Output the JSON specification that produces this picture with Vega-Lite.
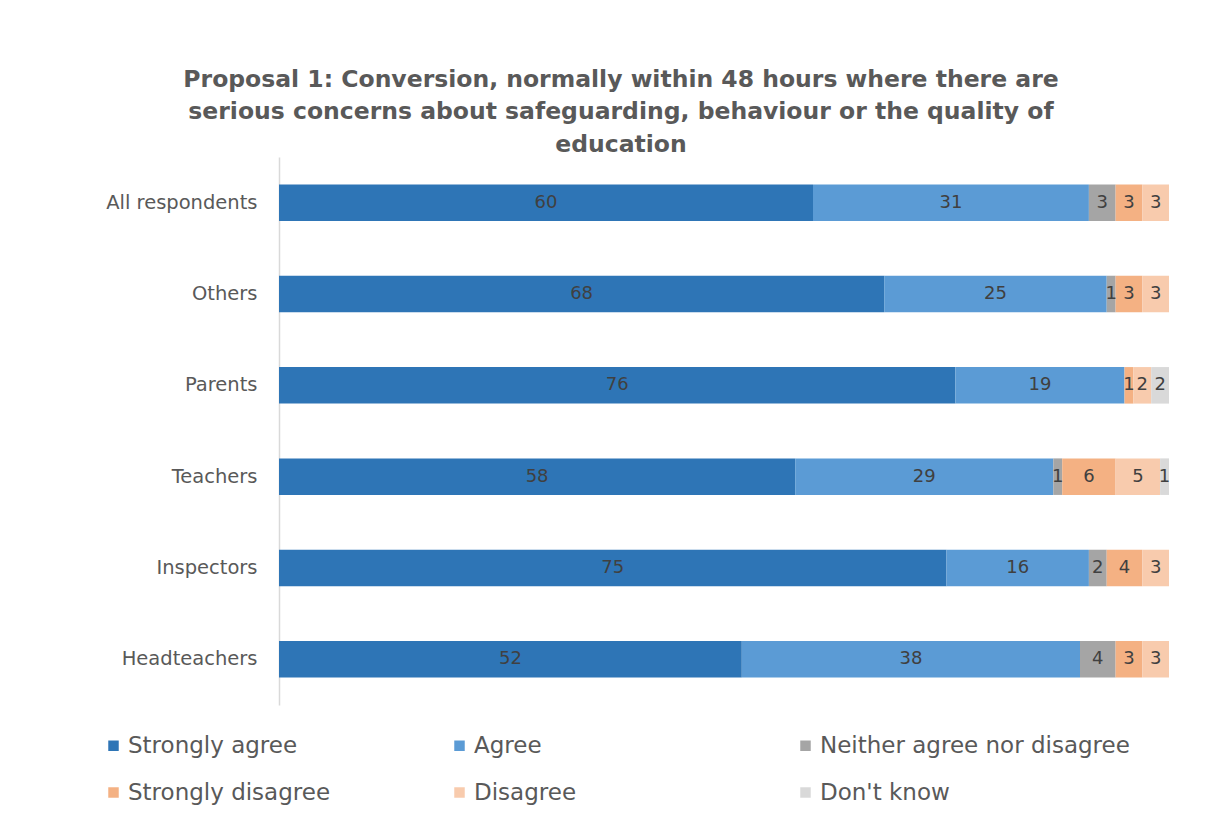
{
  "$schema": "https://vega.github.io/schema/vega-lite/v6.json",
  "width": 890,
  "height": 548,
  "autosize": {"type": "none"},
  "padding": {"left": 279, "top": 157, "right": 38, "bottom": 116},
  "background": "white",
  "config": {"view": {"stroke": null}},
  "title": {
    "text": ["Proposal 1: Conversion, normally within 48 hours where there are", "serious concerns about safeguarding, behaviour or the quality of", "education"],
    "font": "DejaVu Sans",
    "fontSize": 23.5,
    "fontWeight": "bold",
    "color": "#595959",
    "anchor": "middle",
    "frame": "group",
    "dx": -103,
    "offset": 1,
    "lineHeight": 32.5
  },
  "data": {
    "values": [
      {"group": "All respondents", "response": "Strongly agree", "k": 1, "value": 60},
      {"group": "All respondents", "response": "Agree", "k": 2, "value": 31},
      {"group": "All respondents", "response": "Neither agree nor disagree", "k": 3, "value": 3},
      {"group": "All respondents", "response": "Strongly disagree", "k": 4, "value": 3},
      {"group": "All respondents", "response": "Disagree", "k": 5, "value": 3},
      {"group": "Others", "response": "Strongly agree", "k": 1, "value": 68},
      {"group": "Others", "response": "Agree", "k": 2, "value": 25},
      {"group": "Others", "response": "Neither agree nor disagree", "k": 3, "value": 1},
      {"group": "Others", "response": "Strongly disagree", "k": 4, "value": 3},
      {"group": "Others", "response": "Disagree", "k": 5, "value": 3},
      {"group": "Parents", "response": "Strongly agree", "k": 1, "value": 76},
      {"group": "Parents", "response": "Agree", "k": 2, "value": 19},
      {"group": "Parents", "response": "Strongly disagree", "k": 4, "value": 1},
      {"group": "Parents", "response": "Disagree", "k": 5, "value": 2},
      {"group": "Parents", "response": "Don't know", "k": 6, "value": 2},
      {"group": "Teachers", "response": "Strongly agree", "k": 1, "value": 58},
      {"group": "Teachers", "response": "Agree", "k": 2, "value": 29},
      {"group": "Teachers", "response": "Neither agree nor disagree", "k": 3, "value": 1},
      {"group": "Teachers", "response": "Strongly disagree", "k": 4, "value": 6},
      {"group": "Teachers", "response": "Disagree", "k": 5, "value": 5},
      {"group": "Teachers", "response": "Don't know", "k": 6, "value": 1},
      {"group": "Inspectors", "response": "Strongly agree", "k": 1, "value": 75},
      {"group": "Inspectors", "response": "Agree", "k": 2, "value": 16},
      {"group": "Inspectors", "response": "Neither agree nor disagree", "k": 3, "value": 2},
      {"group": "Inspectors", "response": "Strongly disagree", "k": 4, "value": 4},
      {"group": "Inspectors", "response": "Disagree", "k": 5, "value": 3},
      {"group": "Headteachers", "response": "Strongly agree", "k": 1, "value": 52},
      {"group": "Headteachers", "response": "Agree", "k": 2, "value": 38},
      {"group": "Headteachers", "response": "Neither agree nor disagree", "k": 3, "value": 4},
      {"group": "Headteachers", "response": "Strongly disagree", "k": 4, "value": 3},
      {"group": "Headteachers", "response": "Disagree", "k": 5, "value": 3}
    ]
  },
  "encoding": {
    "y": {
      "field": "group",
      "type": "nominal",
      "sort": ["All respondents", "Others", "Parents", "Teachers", "Inspectors", "Headteachers"],
      "scale": {"paddingInner": 0.6, "paddingOuter": 0.3},
      "axis": {
        "title": null,
        "ticks": false,
        "domainColor": "#d9d9d9",
        "domainWidth": 1.5,
        "labelFont": "DejaVu Sans",
        "labelFontSize": 19.5,
        "labelColor": "#595959",
        "labelPadding": 22
      }
    },
    "x": {
      "field": "value",
      "type": "quantitative",
      "stack": "zero",
      "scale": {"domain": [0, 100], "nice": false},
      "axis": null
    },
    "order": {"field": "k", "type": "quantitative"}
  },
  "layer": [
    {
      "mark": {"type": "bar"},
      "encoding": {
        "color": {
          "field": "response",
          "type": "nominal",
          "scale": {
            "domain": ["Strongly agree", "Agree", "Neither agree nor disagree", "Strongly disagree", "Disagree", "Don't know"],
            "range": ["#2E75B6", "#5B9BD5", "#A5A5A5", "#F4B183", "#F8CBAD", "#D9D9D9"]
          },
          "legend": {
            "title": null,
            "orient": "none",
            "legendX": -177,
            "legendY": 577,
            "direction": "horizontal",
            "columns": 3,
            "gridAlign": "all",
            "columnPadding": 10,
            "rowPadding": 23,
            "symbolType": "square",
            "symbolSize": 110,
            "symbolStrokeWidth": 0,
            "labelFont": "DejaVu Sans",
            "labelFontSize": 23,
            "labelColor": "#595959",
            "labelOffset": 3,
            "labelLimit": 400
          }
        }
      }
    },
    {
      "mark": {"type": "text", "font": "DejaVu Sans", "fontSize": 18, "color": "#404040"},
      "encoding": {
        "x": {"field": "value", "type": "quantitative", "stack": "zero", "bandPosition": 0.5},
        "text": {"field": "value", "type": "quantitative"},
        "detail": {"field": "response"}
      }
    }
  ]
}
